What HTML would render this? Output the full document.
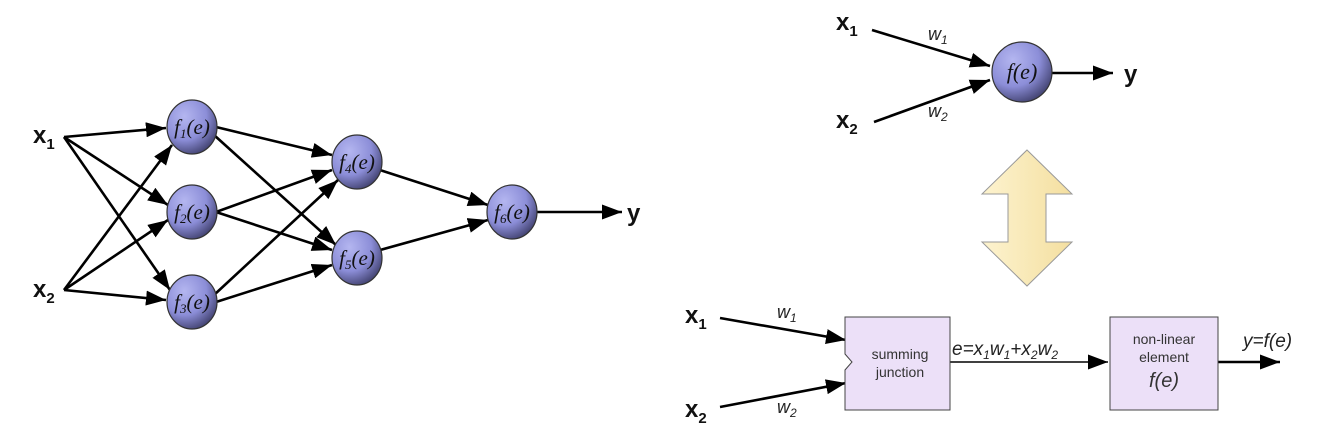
<!DOCTYPE html>
<html><head><style>
html,body{margin:0;padding:0;background:#fff;}
svg{display:block;font-family:"Liberation Sans",sans-serif;}
</style></head><body>
<svg width="1317" height="439" viewBox="0 0 1317 439" xmlns="http://www.w3.org/2000/svg">
<defs>
<marker id="b" viewBox="0 0 10 10" refX="10" refY="5" markerWidth="20" markerHeight="15" orient="auto" markerUnits="userSpaceOnUse" preserveAspectRatio="none"><path d="M0,0 L10,5 L0,10 z" fill="#000"/></marker>
<radialGradient id="g" cx="0.35" cy="0.3" r="0.8"><stop offset="0" stop-color="#b4b6f0"/><stop offset="0.55" stop-color="#8c8ed8"/><stop offset="1" stop-color="#363660"/></radialGradient>
<linearGradient id="y" x1="0" x2="1"><stop offset="0" stop-color="#fdf3cf"/><stop offset="1" stop-color="#f4dfa0"/></linearGradient>
</defs>
<g stroke="#000" stroke-width="2.6" fill="none" marker-end="url(#b)">
<line x1="64" y1="137" x2="166" y2="128"/>
<line x1="64" y1="137" x2="168" y2="205"/>
<line x1="64" y1="137" x2="170" y2="290"/>
<line x1="64" y1="290" x2="172" y2="145"/>
<line x1="64" y1="290" x2="168" y2="220"/>
<line x1="64" y1="290" x2="166" y2="300"/>
<line x1="216" y1="127" x2="332" y2="155"/>
<line x1="214" y1="135" x2="336" y2="245"/>
<line x1="216" y1="212" x2="332" y2="170"/>
<line x1="216" y1="212" x2="332" y2="250"/>
<line x1="214" y1="295" x2="338" y2="180"/>
<line x1="216" y1="302" x2="332" y2="265"/>
<line x1="380" y1="170" x2="488" y2="205"/>
<line x1="380" y1="250" x2="488" y2="220"/>
<line x1="536" y1="212" x2="622" y2="212"/>
<line x1="872" y1="30" x2="990" y2="66"/>
<line x1="874" y1="122" x2="990" y2="80"/>
<line x1="1052" y1="73" x2="1113" y2="73"/>
<line x1="720" y1="318" x2="846" y2="340"/>
<line x1="720" y1="407" x2="846" y2="383"/>
<line x1="1218" y1="362" x2="1280" y2="362"/>
</g>
<line x1="950" y1="362" x2="1108" y2="362" stroke="#000" stroke-width="1.4" marker-end="url(#b)"/>
<g stroke="#333" stroke-width="1.2" fill="url(#g)">
<ellipse cx="192" cy="127" rx="25" ry="27"/>
<ellipse cx="192" cy="212" rx="25" ry="27"/>
<ellipse cx="192" cy="302" rx="25" ry="27"/>
<ellipse cx="357" cy="162" rx="25" ry="27"/>
<ellipse cx="357" cy="258" rx="25" ry="27"/>
<ellipse cx="512" cy="212" rx="25" ry="27"/>
<circle cx="1022" cy="72" r="30"/>
</g>
<g font-family="Liberation Serif,serif" font-style="italic" font-size="21" text-anchor="middle" fill="#111">
<text x="192" y="134">f<tspan font-size="13" dy="4">1</tspan><tspan dy="-4">(e)</tspan></text>
<text x="192" y="219">f<tspan font-size="13" dy="4">2</tspan><tspan dy="-4">(e)</tspan></text>
<text x="192" y="309">f<tspan font-size="13" dy="4">3</tspan><tspan dy="-4">(e)</tspan></text>
<text x="357" y="169">f<tspan font-size="13" dy="4">4</tspan><tspan dy="-4">(e)</tspan></text>
<text x="357" y="265">f<tspan font-size="13" dy="4">5</tspan><tspan dy="-4">(e)</tspan></text>
<text x="512" y="219">f<tspan font-size="13" dy="4">6</tspan><tspan dy="-4">(e)</tspan></text>
<text x="1022" y="79" font-size="22">f(e)</text>
</g>
<g font-weight="bold" font-size="24" fill="#111">
<text x="33" y="143">x<tspan font-size="15" dy="6">1</tspan></text>
<text x="33" y="297">x<tspan font-size="15" dy="6">2</tspan></text>
<text x="627" y="221">y</text>
<text x="836" y="30">x<tspan font-size="15" dy="6">1</tspan></text>
<text x="836" y="128">x<tspan font-size="15" dy="6">2</tspan></text>
<text x="1124" y="82">y</text>
<text x="685" y="323">x<tspan font-size="15" dy="6">1</tspan></text>
<text x="685" y="417">x<tspan font-size="15" dy="6">2</tspan></text>
</g>
<g font-style="italic" font-size="18" fill="#222">
<text x="928" y="40">w<tspan font-size="12" dy="4">1</tspan></text>
<text x="928" y="117">w<tspan font-size="12" dy="4">2</tspan></text>
<text x="777" y="318">w<tspan font-size="12" dy="4">1</tspan></text>
<text x="777" y="413">w<tspan font-size="12" dy="4">2</tspan></text>
<text x="952" y="355" font-size="19">e=x<tspan font-size="12" dy="4">1</tspan><tspan dy="-4">w</tspan><tspan font-size="12" dy="4">1</tspan><tspan dy="-4">+x</tspan><tspan font-size="12" dy="4">2</tspan><tspan dy="-4">w</tspan><tspan font-size="12" dy="4">2</tspan></text>
<text x="1243" y="347" font-size="19">y=f(e)</text>
</g>
<path d="M1027,150 L1072,194 L1046,194 L1046,242 L1072,242 L1027,286 L982,242 L1008,242 L1008,194 L982,194 Z" fill="url(#y)" stroke="#999" stroke-width="1"/>
<path d="M845,317 L950,317 L950,410 L845,410 L845,370 L852,362 L845,354 Z" fill="#ece0f8" stroke="#444" stroke-width="1"/>
<rect x="1110" y="317" width="108" height="93" fill="#ece0f8" stroke="#444" stroke-width="1"/>
<g font-size="14" fill="#333" text-anchor="middle">
<text x="900" y="359">summing</text>
<text x="900" y="377">junction</text>
<text x="1164" y="344">non-linear</text>
<text x="1164" y="362">element</text>
<text x="1164" y="387" font-size="20" font-style="italic">f(e)</text>
</g>
</svg>
</body></html>
